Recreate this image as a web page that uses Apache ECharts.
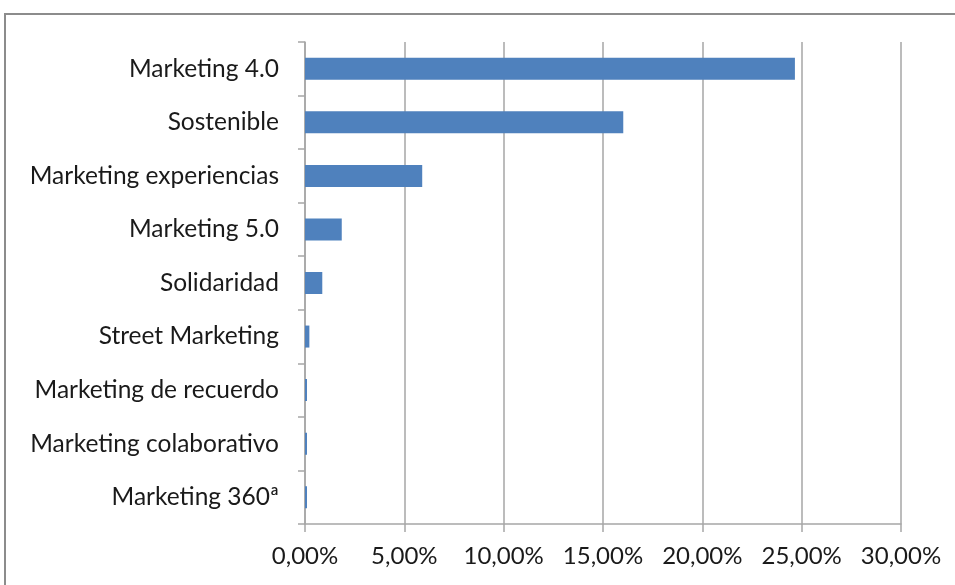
<!DOCTYPE html>
<html>
<head>
<meta charset="utf-8">
<script src="https://cdn.jsdelivr.net/npm/echarts@6/dist/echarts.min.js"></script>
<style>
  html, body { margin: 0; padding: 0; background: #fff; }
  #chart { width: 955px; height: 585px; }
</style>
</head>
<body>
<div id="chart"></div>
<script>
// Categories listed top to bottom
const categories = [
  'Marketing 4.0',
  'Sostenible',
  'Marketing experiencias',
  'Marketing 5.0',
  'Solidaridad',
  'Street Marketing',
  'Marketing de recuerdo',
  'Marketing colaborativo',
  'Marketing 360ª'
];
// Share of mentions, in percent
const shares = [24.66, 16.02, 5.9, 1.85, 0.87, 0.22, 0.08, 0.08, 0.08];
const xTicks = { min: 0, max: 30, step: 5 };

const chart = echarts.init(document.getElementById('chart'));
const fontFamily = 'Lato';
const gridColor = '#a6a6a6';

chart.setOption({
  animation: false,
  graphic: [{
    type: 'rect',
    shape: { x: 5, y: 14, width: 1200, height: 1200 },
    style: { fill: 'none', stroke: '#8c8c8c', lineWidth: 2 },
    z: 0
  }],
  grid: { left: 305, right: 54, top: 42, bottom: 61, containLabel: false },
  xAxis: {
    type: 'value',
    min: xTicks.min,
    max: xTicks.max,
    interval: xTicks.step,
    axisLine: { show: true, lineStyle: { color: gridColor, width: 1.5 } },
    axisTick: { show: true, length: 8, lineStyle: { color: gridColor, width: 1.5 } },
    splitLine: { show: true, lineStyle: { color: gridColor, width: 1.5 } },
    axisLabel: {
      color: '#1a1a1a',
      fontFamily: fontFamily,
      fontSize: 24,
      margin: 20,
      formatter: v => v.toFixed(2).replace('.', ',') + '%'
    }
  },
  yAxis: {
    type: 'category',
    data: categories,
    inverse: true,
    axisLine: { show: true, lineStyle: { color: gridColor, width: 1.5 } },
    axisTick: { show: true, length: 7, alignWithLabel: false, lineStyle: { color: gridColor, width: 1.5 } },
    axisLabel: {
      color: '#1a1a1a',
      fontFamily: fontFamily,
      fontSize: 24.5,
      margin: 26
    }
  },
  series: [{
    type: 'bar',
    data: shares,
    barWidth: 22,
    barMinHeight: 2,
    itemStyle: { color: '#4F81BD' }
  }]
});
</script>
</body>
</html>
